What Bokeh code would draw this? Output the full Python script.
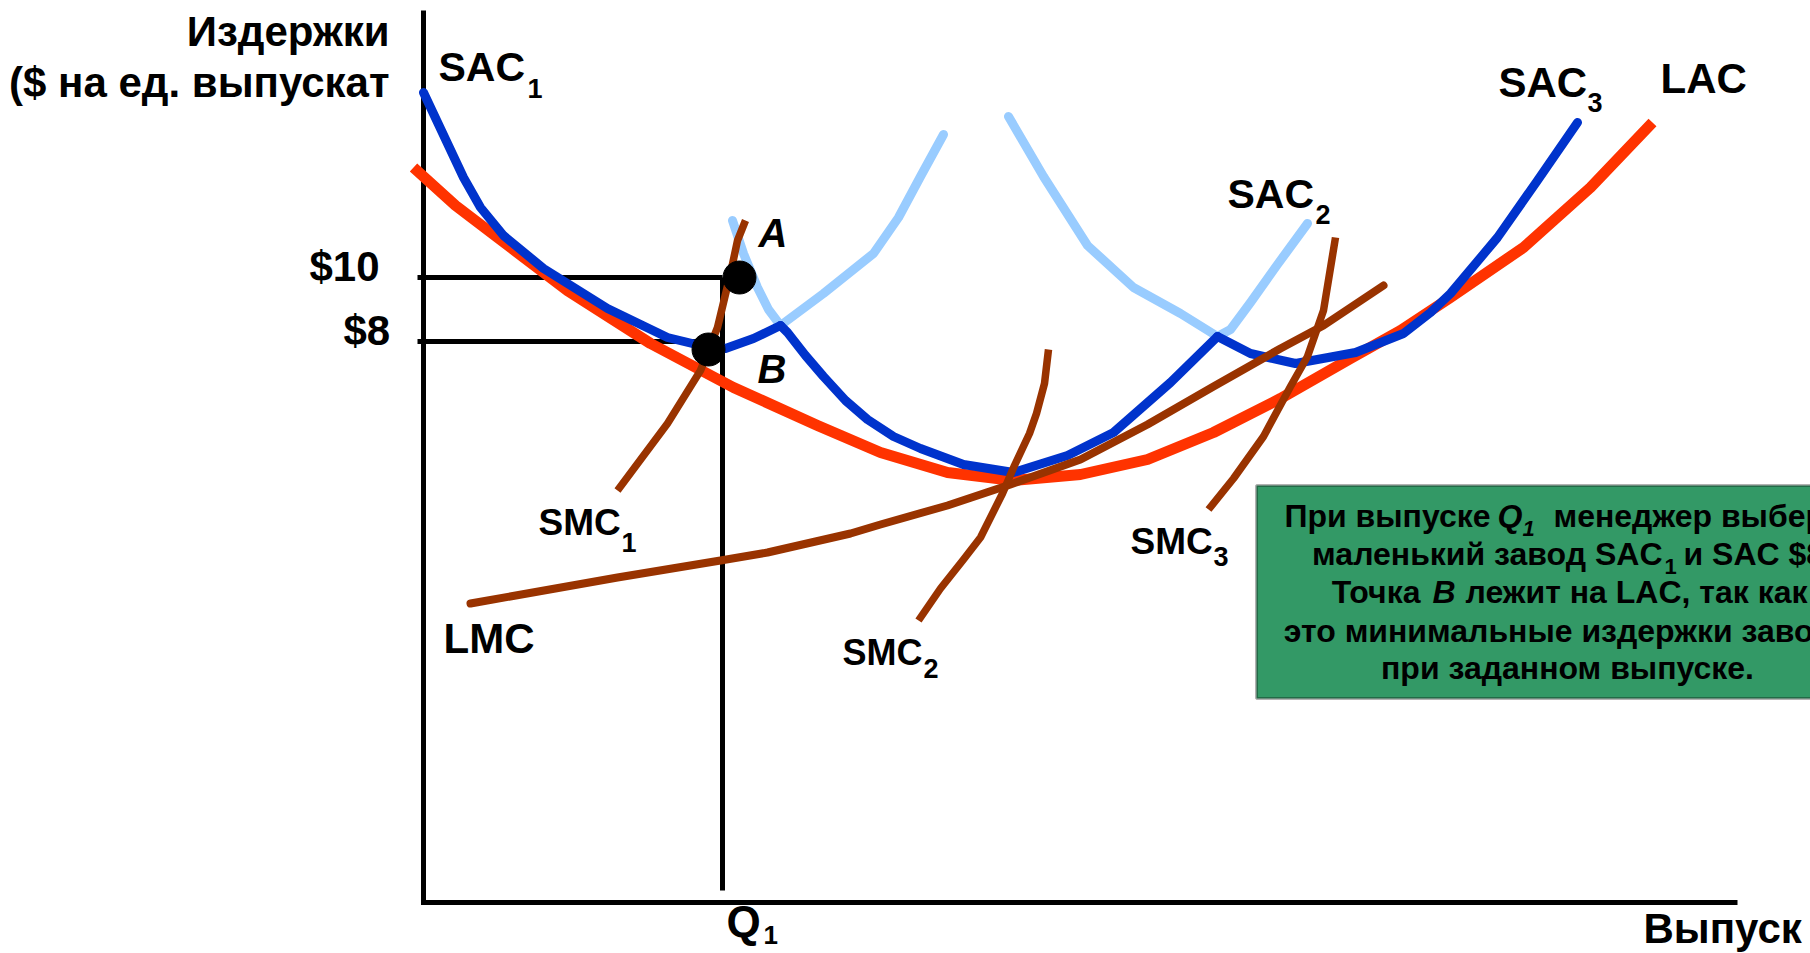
from bokeh.plotting import figure
from bokeh.models import Range1d, BoxAnnotation
from bokeh.core.properties import value
from bokeh.embed import file_html
from bokeh.resources import INLINE

# ---------------- data (quantity, cost) ----------------
# Long-run average cost (LAC)
lac_q = [-1.0, 3.2, 7.4, 14.4, 22.7, 31.0, 39.4, 45.7, 52.4, 59.0, 65.7, 72.4,
         79.0, 85.7, 92.7, 97.7, 102.7, 110.0, 116.7, 122.9]
lac_c = [73.5, 69.7, 66.5, 61.2, 55.9, 51.5, 47.7, 45.0, 43.0, 42.2, 42.8, 44.3,
         47.0, 50.4, 54.4, 57.2, 60.5, 65.5, 71.5, 78.0]

# SAC1: part on the envelope (dark) and its rising arm (light)
sac1_env_q = [0.0, 4.0, 5.7, 8.0, 12.0, 18.4, 24.4, 27.7, 30.2, 33.0, 35.7]
sac1_env_c = [81.0, 72.5, 69.5, 66.7, 63.4, 59.4, 56.5, 55.7, 55.4, 56.4, 57.7]
sac1_arm_q = [35.7, 40.0, 45.0, 47.5, 49.7, 52.0]
sac1_arm_c = [57.7, 60.9, 64.9, 68.5, 72.6, 76.8]

# SAC2: left arm (light), bottom on the envelope (dark), right arm (light)
sac2_left_q = [30.9, 32.0, 33.4, 34.5, 35.7]
sac2_left_c = [68.2, 64.9, 61.5, 59.3, 57.7]
sac2_env_q = [35.7, 36.4, 38.2, 40.0, 42.2, 44.4, 47.0, 49.7, 54.0, 59.0, 64.4,
              69.0, 74.7, 79.4]
sac2_env_c = [57.7, 57.0, 54.7, 52.6, 50.2, 48.3, 46.6, 45.4, 43.8, 43.0, 44.7,
              47.0, 52.0, 56.6]
sac2_right_q = [79.4, 80.7, 82.7, 85.4, 88.4]
sac2_right_c = [56.6, 57.3, 60.0, 63.8, 67.9]

# SAC3: left arm (light), envelope part (dark)
sac3_left_q = [58.5, 62.0, 66.4, 71.0, 75.7, 79.4]
sac3_left_c = [78.6, 72.6, 65.7, 61.5, 58.9, 56.6]
sac3_env_q = [79.4, 82.7, 87.2, 93.2, 98.0, 100.7, 102.7, 107.4, 111.4, 115.4]
sac3_env_c = [56.6, 54.9, 53.9, 55.0, 56.9, 59.0, 60.9, 66.5, 72.2, 78.0]

# Marginal costs
lmc_q = [4.7, 19.4, 29.7, 34.4, 42.7, 45.7, 52.4, 58.7, 65.7, 72.4, 79.0, 85.7, 90.0, 96.0]
lmc_c = [29.9, 32.5, 34.2, 35.0, 36.9, 37.8, 39.7, 41.8, 44.3, 47.8, 51.6, 55.4, 57.7, 61.7]
smc1_q = [19.4, 24.4, 27.7, 29.4, 30.7, 31.4, 32.2]
smc1_c = [41.2, 47.9, 53.2, 57.5, 62.9, 66.2, 68.2]
smc2_q = [49.5, 51.7, 54.0, 55.7, 57.9, 59.1, 60.6, 61.3, 62.1, 62.5]
smc2_c = [28.2, 31.4, 34.3, 36.5, 40.9, 43.7, 46.9, 48.9, 51.9, 55.3]
smc3_q = [78.5, 81.0, 84.0, 86.7, 88.4, 90.0, 91.2]
smc3_c = [39.3, 42.4, 46.6, 51.6, 54.6, 59.2, 66.5]

# Price levels (tick labels), output Q1 and points A, B
price_levels = [62.5, 56.1]
price_labels = ["$10", "$8"]
q1 = 29.9
point_q = [31.6, 28.5]
point_c = [62.5, 55.3]
point_names = ["A", "B"]

# ---------------- styling ----------------
FONT = "Liberation Sans"
DARK_BLUE = "#0033CC"
LIGHT_BLUE = "#99CCFF"
RED = "#FF3300"
BROWN = "#993300"
GREEN = "#339966"

p = figure(width=1810, height=953, output_backend="svg", toolbar_location=None,
           x_range=Range1d(-42.3, 138.7), y_range=Range1d(-5.1, 90.2),
           min_border=0)
p.axis.visible = False
p.grid.visible = False
p.outline_line_color = None
p.background_fill_color = "white"


def txt(x, y, s, size, style="bold", align="left"):
    p.text(x=[x], y=[y], text=[s], text_font=value(FONT),
           text_font_size=f"{size}px", text_font_style=style,
           text_align=align, text_baseline="middle", text_color="black")


# Text box (behind everything)
p.add_layout(BoxAnnotation(left=83.3, right=150, top=41.7, bottom=20.4,
                           fill_color=GREEN, fill_alpha=1.0,
                           line_color="black", line_width=3, level="underlay"))

# Axes
ymax, xmax = 89.2, 131.4
p.line([0, 0, xmax], [ymax, 0, 0], line_color="black", line_width=5,
       line_join="miter")

# Guide lines for $10, $8 and Q1
p.line([-0.6, q1], [price_levels[0]] * 2, line_color="black", line_width=5)
p.line([-0.6, point_q[1]], [price_levels[1]] * 2, line_color="black", line_width=5)
p.line([q1, q1], [1.2, price_levels[0]], line_color="black", line_width=5)

# Curves
p.line(lac_q, lac_c, line_color=RED, line_width=11, line_join="round")
for qs, cs in [(sac1_arm_q, sac1_arm_c), (sac2_left_q, sac2_left_c),
               (sac2_right_q, sac2_right_c), (sac3_left_q, sac3_left_c)]:
    p.line(qs, cs, line_color=LIGHT_BLUE, line_width=9, line_cap="round",
           line_join="round")
for qs, cs in [(sac1_env_q, sac1_env_c), (sac2_env_q, sac2_env_c),
               (sac3_env_q, sac3_env_c)]:
    p.line(qs, cs, line_color=DARK_BLUE, line_width=9, line_cap="round",
           line_join="round")
p.line(lmc_q, lmc_c, line_color=BROWN, line_width=8, line_cap="round",
       line_join="round")
for qs, cs in [(smc1_q, smc1_c), (smc2_q, smc2_c), (smc3_q, smc3_c)]:
    p.line(qs, cs, line_color=BROWN, line_width=7.5, line_join="round")

# Points A and B
p.scatter(point_q, point_c, size=33, color="black")

# Axis texts
txt(-3.4, 87.1, "Издержки", 42, align="right")
txt(-3.4, 82.05, "($ на ед. выпускат", 42, align="right")
txt(-11.4, 63.6, price_labels[0], 42)
txt(-8.0, 57.2, price_labels[1], 42)
txt(30.3, -1.9, "Q", 44)
txt(34.0, -3.2, "1", 26)
txt(122.0, -2.6, "Выпуск", 42)

# Point labels
txt(33.5, 66.95, point_names[0], 40, style="bold italic")
txt(33.4, 53.4, point_names[1], 40, style="bold italic")

# Curve labels (main text + subscript)
for main, sub, x, y, xs, ys, size in [
    ("SAC", "1", 1.5, 83.6, 10.4, 81.45, 41),
    ("SAC", "2", 80.4, 70.9, 89.2, 68.85, 41),
    ("SAC", "3", 107.5, 82.0, 116.4, 80.0, 42),
    ("SMC", "1", 11.5, 38.0, 19.8, 36.0, 37),
    ("SMC", "2", 41.9, 25.05, 50.0, 23.45, 36),
    ("SMC", "3", 70.7, 36.15, 79.0, 34.65, 37),
]:
    txt(x, y, main, size)
    txt(xs, ys, sub, 27)
txt(2.0, 26.45, "LMC", 42)
txt(123.7, 82.45, "LAC", 42)

# Box text
txt(106.7, 38.7, "При выпуске", 32, align="right")
txt(107.4, 38.7, "Q", 32, style="bold italic")
txt(109.9, 37.4, "1", 22, style="bold italic")
txt(113.0, 38.7, "менеджер выберет", 32)
txt(123.9, 34.9, "маленький завод SAC", 32, align="right")
txt(124.1, 33.6, "1", 22)
txt(126.0, 34.9, "и SAC $8.", 32)
txt(99.7, 31.1, "Точка", 32, align="right")
txt(100.9, 31.1, "B", 32, style="bold italic")
txt(104.2, 31.1, "лежит на LAC, так как", 32)
txt(114.4, 27.2, "это минимальные издержки завода", 32, align="center")
txt(114.4, 23.5, "при заданном выпуске.", 32, align="center")

open("out.html", "w").write(file_html(p, INLINE))
